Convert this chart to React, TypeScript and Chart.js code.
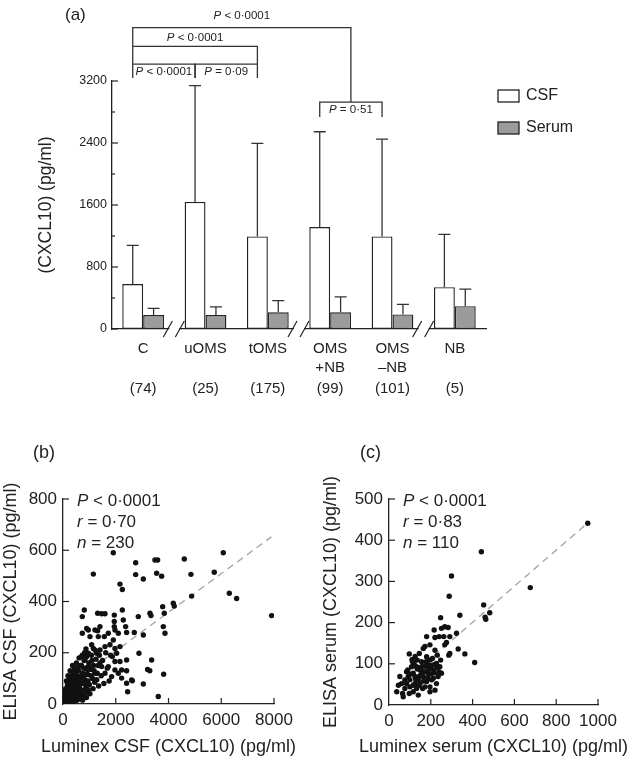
import React, { useEffect, useRef } from 'react';
import { Chart, registerables } from 'chart.js';
Chart.register(...registerables);

const FONT = '"Liberation Sans", Arial, Helvetica, sans-serif';
const INK = '#222';
Chart.defaults.font.family = FONT;
Chart.defaults.color = INK;

// ---------- Panel (a) data ----------
const groupLabels = [['C'], ['uOMS'], ['tOMS'], ['OMS', '+NB'], ['OMS', '–NB'], ['NB']];
const groupCounts = ['(74)', '(25)', '(175)', '(99)', '(101)', '(5)'];
const csfMean = [580, 1640, 1195, 1315, 1195, 540];
const csfSD = [500, 1500, 1200, 1230, 1255, 680];
const serumMean = [180, 180, 215, 215, 188, 295];
const serumSD = [85, 105, 150, 200, 130, 220];
const seriesNames = ['CSF', 'Serum'];
const yTicksMajorA = 800;
const yTicksMinorA = 400;
const breakAfter = [0, 2, 4];
// brackets: x in group units (CSF bar = group - 0.1675), y in pg/ml
const brackets = [
  { x1: -0.1675, x2: 3.3325, y: 3890, d1: 3647, d2: 2928, text: ' < 0·0001', ty: 4045 },
  { x1: -0.1675, x2: 1.8325, y: 3647, d1: 3419, d2: 3419, text: ' < 0·0001', ty: 3762 },
  { x1: -0.1675, x2: 0.8325, y: 3419, d1: 3239, d2: 3239, text: ' < 0·0001', ty: 3316 },
  { x1: 0.8325, x2: 1.8325, y: 3419, d1: 3239, d2: 3239, text: ' = 0·09', ty: 3316 },
  { x1: 2.8325, x2: 3.8325, y: 2928, d1: 2735, d2: 2735, text: ' = 0·51', ty: 2831 },
];

// ---------- Panel (b) data: [Luminex CSF, ELISA CSF] ----------
const csfPoints: [number, number][] = [
  [1907, 590], [1150, 507], [2755, 551], [3487, 562], [3588, 562], [4598, 566], [6077, 590], [5735, 514],
  [4851, 506], [2755, 505], [3045, 488], [3550, 510], [3740, 499], [2160, 468], [2249, 447], [4878, 421],
  [6305, 432], [6583, 412], [7909, 345], [4181, 393], [4219, 382], [3778, 380], [3841, 354], [3297, 354],
  [3335, 345], [2855, 341], [2249, 367], [1945, 347], [808, 367], [732, 341], [1314, 354], [1466, 352],
  [1592, 352], [3803, 302], [3866, 276], [3045, 269], [2881, 198], [3360, 172], [3208, 135], [3290, 130],
  [3816, 116], [3045, 78], [3613, 29], [2451, 48], [2628, 91],
  [1945, 322], [2286, 328], [2375, 302], [1945, 302], [1970, 289], [2097, 276], [1907, 250], [732, 276],
  [897, 295], [960, 289], [1213, 289], [1314, 286], [1402, 302], [1023, 263], [1339, 263], [1566, 263],
  [1718, 276], [1781, 231], [1592, 224], [1086, 231], [1150, 217], [1276, 198], [1402, 211], [960, 198],
  [1970, 217], [2034, 198], [2160, 224], [1870, 185], [1970, 166], [2160, 166], [2412, 172], [2412, 279],
  [2703, 279], [2412, 130], [2223, 133], [2097, 120], [1970, 133], [1718, 146], [1592, 120], [1465, 146],
  [1844, 107], [2223, 101], [2602, 94], [2412, 81], [1213, 120], [960, 146], [834, 172], [707, 185],
  [581, 146], [455, 120],
  [50, 10], [80, 25], [120, 15], [150, 40], [200, 30], [220, 60], [260, 20], [300, 45], [330, 80], [350, 15],
  [380, 55], [400, 35], [420, 95], [450, 70], [480, 20], [500, 50], [520, 110], [550, 85], [580, 40], [600, 130],
  [620, 65], [650, 100], [680, 30], [700, 150], [720, 80], [750, 120], [780, 55], [800, 170], [830, 95], [860, 140],
  [880, 60], [900, 185], [940, 115], [980, 160], [1000, 75], [1040, 135], [1080, 190], [1120, 100], [1160, 150],
  [1200, 85], [1250, 175], [1300, 120], [1350, 70], [1400, 160], [100, 60], [130, 90], [170, 75], [190, 110],
  [240, 95], [270, 130], [290, 70], [320, 110], [360, 150], [390, 125], [410, 60], [440, 140], [470, 100],
  [510, 160], [540, 30], [570, 130], [610, 180], [640, 45], [660, 150], [690, 110], [730, 190], [760, 35],
  [790, 140], [820, 200], [850, 75], [870, 215], [910, 45], [950, 90], [30, 30], [60, 45], [90, 5], [110, 35],
  [140, 20], [160, 55], [180, 10], [210, 85], [230, 45], [250, 65], [280, 5], [310, 25], [340, 100], [370, 35],
  [430, 10], [460, 45], [490, 80], [530, 15], [560, 60], [590, 95], [630, 20], [670, 80], [710, 50], [740, 15],
  [770, 100], [810, 30], [840, 115], [890, 25], [920, 135], [960, 55], [1020, 40], [1060, 110], [1100, 170],
  [1140, 60], [1180, 130], [1220, 210], [1280, 95], [1330, 150], [1380, 190], [1450, 110], [1500, 170],
  [1550, 80], [1620, 200], [1680, 140], [1750, 90], [1800, 190],
];
const csfFit: [number, number][] = [[0, 56], [7900, 652]];
const csfStats = [['P', ' < 0·0001'], ['r', ' = 0·70'], ['n', ' = 230']];

// ---------- Panel (c) data: [Luminex serum, ELISA serum] ----------
const serumPoints: [number, number][] = [
  [951, 441], [442, 372], [299, 313], [288, 264], [676, 285], [453, 243], [460, 213], [463, 208], [482, 224],
  [339, 218], [247, 212], [216, 182], [251, 186], [267, 190], [283, 188], [180, 166], [220, 164], [240, 166],
  [262, 166], [291, 166], [275, 152], [267, 146], [323, 174], [331, 136], [291, 125], [286, 121], [363, 124],
  [410, 103], [145, 125], [164, 137], [172, 142], [196, 146], [220, 133],
  [37, 32], [68, 20], [60, 52], [76, 61], [92, 69], [100, 44], [116, 77], [124, 52], [132, 93], [140, 61],
  [148, 85], [156, 105], [164, 69], [172, 44], [180, 93], [188, 77], [196, 109], [204, 61], [212, 85], [220, 36],
  [227, 101], [235, 69], [243, 93], [251, 77], [108, 93], [84, 81], [52, 69], [45, 48], [76, 40], [97, 28],
  [116, 32], [132, 40], [148, 52], [161, 40], [180, 57], [196, 44], [212, 65], [227, 52], [100, 61], [124, 69],
  [145, 69], [172, 81], [188, 97], [156, 93], [135, 109], [113, 105], [97, 124], [180, 117], [208, 113],
  [231, 121], [247, 109], [116, 48], [84, 52], [65, 28], [140, 24], [196, 32],
  [90, 85], [105, 75], [120, 100], [135, 88], [150, 72], [165, 58], [178, 105], [192, 88], [205, 96], [218, 78],
  [230, 90], [128, 62], [142, 47], [158, 82], [170, 95], [185, 66], [200, 75], [215, 98], [110, 110], [125, 118],
  [240, 80],
];
const serumFit: [number, number][] = [[40, 43], [935, 435]];
const serumStats = [['P', ' < 0·0001'], ['r', ' = 0·83'], ['n', ' = 110']];

// ---------- helpers ----------
function setFont(ctx: CanvasRenderingContext2D, size: number, italic = false) {
  ctx.font = `${italic ? 'italic ' : ''}${size}px ${FONT}`;
}
function drawRich(ctx: CanvasRenderingContext2D, parts: [string, boolean][], x: number, y: number, size: number, align: 'left' | 'center') {
  let total = 0;
  const widths = parts.map(([t, it]) => {
    setFont(ctx, size, it);
    const w = ctx.measureText(t).width;
    total += w;
    return w;
  });
  let cx = align === 'center' ? x - total / 2 : x;
  ctx.textAlign = 'left';
  ctx.textBaseline = 'middle';
  ctx.fillStyle = INK;
  parts.forEach(([t, it], i) => {
    setFont(ctx, size, it);
    ctx.fillText(t, cx, y);
    cx += widths[i];
  });
}

const CAT_PCT = 0.67;

function BarPanel() {
  const ref = useRef<HTMLCanvasElement>(null);
  useEffect(() => {
    const plugin = {
      id: 'panelA',
      afterDatasetsDraw(chart: any) {
        const { ctx, chartArea, scales: { x, y } } = chart;
        ctx.save();
        // error bars
        [csfSD, serumSD].forEach((sd, di) => {
          const meta = chart.getDatasetMeta(di);
          const vals = di === 0 ? csfMean : serumMean;
          meta.data.forEach((el: any, i: number) => {
            const top = y.getPixelForValue(vals[i] + sd[i]);
            ctx.strokeStyle = '#333';
            ctx.lineWidth = 1.3;
            ctx.beginPath();
            ctx.moveTo(el.x, el.y);
            ctx.lineTo(el.x, top);
            ctx.moveTo(el.x - 6, top);
            ctx.lineTo(el.x + 6, top);
            ctx.stroke();
          });
        });
        // y ticks (inward)
        ctx.strokeStyle = INK;
        ctx.lineWidth = 1.2;
        for (let v = 0; v <= 3200; v += yTicksMinorA) {
          const py = y.getPixelForValue(v);
          const len = v % yTicksMajorA === 0 ? 6 : 3;
          ctx.beginPath();
          ctx.moveTo(chartArea.left, py);
          ctx.lineTo(chartArea.left + len, py);
          ctx.stroke();
        }
        // brackets
        ctx.strokeStyle = '#333';
        ctx.lineWidth = 1.3;
        brackets.forEach((b) => {
          const x1 = x.getPixelForValue(b.x1);
          const x2 = x.getPixelForValue(b.x2);
          const yy = y.getPixelForValue(b.y);
          ctx.beginPath();
          ctx.moveTo(x1, y.getPixelForValue(b.d1));
          ctx.lineTo(x1, yy);
          ctx.lineTo(x2, yy);
          ctx.lineTo(x2, y.getPixelForValue(b.d2));
          ctx.stroke();
          drawRich(ctx, [['P', true], [b.text, false]], (x1 + x2) / 2, y.getPixelForValue(b.ty), 11.5, 'center');
        });
        // axis breaks
        breakAfter.forEach((g) => {
          const bx = x.getPixelForValue(g + 0.5);
          const by = chartArea.bottom;
          ctx.fillStyle = '#fff';
          ctx.fillRect(bx - 5, by - 2, 10, 4);
          ctx.strokeStyle = INK;
          ctx.lineWidth = 1.2;
          ctx.beginPath();
          ctx.moveTo(bx - 11, by + 8);
          ctx.lineTo(bx - 2, by - 8);
          ctx.moveTo(bx + 1, by + 8);
          ctx.lineTo(bx + 10, by - 8);
          ctx.stroke();
        });
        // counts
        setFont(ctx, 15);
        ctx.fillStyle = INK;
        ctx.textAlign = 'center';
        ctx.textBaseline = 'middle';
        groupCounts.forEach((c, i) => {
          ctx.fillText(c, x.getPixelForValue(i), chartArea.bottom + 60);
        });
        // legend
        chart.data.datasets.forEach((ds: any, i: number) => {
          const bx = chartArea.right + 12;
          const by = 90 + i * 32;
          ctx.fillStyle = ds.backgroundColor;
          ctx.fillRect(bx, by, 21, 12);
          ctx.strokeStyle = INK;
          ctx.lineWidth = 1.3;
          ctx.strokeRect(bx, by, 21, 12);
          setFont(ctx, 16);
          ctx.fillStyle = INK;
          ctx.textAlign = 'left';
          ctx.textBaseline = 'middle';
          ctx.fillText(ds.label, bx + 28, by + 6);
        });
        // panel label
        setFont(ctx, 17);
        ctx.textAlign = 'left';
        ctx.fillText('(a)', 65, 15);
        ctx.restore();
      },
    };
    const chart = new Chart(ref.current!, {
      type: 'bar',
      data: {
        labels: groupLabels,
        datasets: [
          { label: seriesNames[0], data: csfMean, backgroundColor: '#ffffff', borderColor: INK, borderWidth: 1.4, borderSkipped: false, categoryPercentage: CAT_PCT, barPercentage: 1 },
          { label: seriesNames[1], data: serumMean, backgroundColor: '#9b9b9b', borderColor: INK, borderWidth: 1.4, borderSkipped: false, categoryPercentage: CAT_PCT, barPercentage: 1 },
        ],
      },
      options: {
        responsive: false,
        animation: false,
        events: [],
        layout: { padding: { top: 81, right: 148, left: 0, bottom: 0 } },
        plugins: { legend: { display: false }, tooltip: { enabled: false } },
        scales: {
          x: {
            grid: { display: false, drawTicks: false },
            border: { display: true, color: INK, width: 1.3 },
            ticks: { font: { size: 15, lineHeight: 1.3 }, color: INK, padding: 10, maxRotation: 0, autoSkip: false },
            afterFit: (s: any) => { s.height = 71; },
          },
          y: {
            min: 0,
            max: 3200,
            grid: { display: false, drawTicks: false },
            border: { display: true, color: INK, width: 1.3 },
            ticks: {
              stepSize: yTicksMinorA,
              autoSkip: false,
              font: { size: 12.5 },
              color: INK,
              padding: 5,
              callback: (v: any) => (Number(v) % yTicksMajorA === 0 ? String(v) : ''),
            },
            title: { display: true, text: '(CXCL10) (pg/ml)', font: { size: 17.5 }, color: INK, padding: { top: 36, bottom: 0 } },
            afterFit: (s: any) => { s.width = 112; },
          },
        },
      } as any,
      plugins: [plugin],
    });
    return () => chart.destroy();
  }, []);
  return <canvas ref={ref} width={634} height={400} style={{ position: 'absolute', left: 0, top: 0, display: 'block' }} />;
}

type ScatterProps = {
  left: number;
  points: [number, number][];
  fit: [number, number][];
  stats: string[][];
  xMax: number;
  xStep: number;
  yMax: number;
  yStep: number;
  xTitle: string;
  yTitle: string;
  label: string;
  axisWidth: number;
  rightPad: number;
  bottomH: number;
  yTitlePad: number;
  labelX: number;
};

function ScatterPanel(p: ScatterProps) {
  const ref = useRef<HTMLCanvasElement>(null);
  useEffect(() => {
    const plugin = {
      id: 'scatterDeco',
      afterDatasetsDraw(chart: any) {
        const { ctx, chartArea, scales: { x, y } } = chart;
        ctx.save();
        ctx.strokeStyle = INK;
        ctx.lineWidth = 1.2;
        for (let v = p.yStep; v <= p.yMax; v += p.yStep) {
          const py = y.getPixelForValue(v);
          ctx.beginPath();
          ctx.moveTo(chartArea.left, py);
          ctx.lineTo(chartArea.left + 6, py);
          ctx.stroke();
        }
        for (let v = p.xStep; v <= p.xMax; v += p.xStep) {
          const px = x.getPixelForValue(v);
          ctx.beginPath();
          ctx.moveTo(px, chartArea.bottom);
          ctx.lineTo(px, chartArea.bottom - 6);
          ctx.stroke();
        }
        p.stats.forEach((s, i) => {
          drawRich(ctx, [[s[0], true], [s[1], false]], chartArea.left + 14, chartArea.top + 2 + i * 21, 17, 'left');
        });
        setFont(ctx, 18);
        ctx.fillStyle = INK;
        ctx.textAlign = 'left';
        ctx.textBaseline = 'middle';
        ctx.fillText(p.label, p.labelX, 33);
        // x-axis title (drawn unconstrained so it can extend past the plot)
        ctx.textAlign = 'center';
        ctx.fillText(p.xTitle, (chartArea.left + chartArea.right) / 2, chart.height - 11);
        ctx.restore();
      },
    };
    const chart = new Chart(ref.current!, {
      type: 'scatter',
      data: {
        datasets: [
          { data: p.points.map(([a, b]) => ({ x: a, y: b })), pointRadius: 2.7, pointBackgroundColor: '#111', pointBorderWidth: 0, order: 1 },
          { data: p.fit.map(([a, b]) => ({ x: a, y: b })), showLine: true, borderColor: '#a8a8a8', borderDash: [7, 5], borderWidth: 1.4, pointRadius: 0, order: 2 },
        ],
      },
      options: {
        responsive: false,
        animation: false,
        events: [],
        layout: { padding: { top: 79, right: p.rightPad, left: 0, bottom: 0 } },
        plugins: { legend: { display: false }, tooltip: { enabled: false } },
        scales: {
          x: {
            type: 'linear',
            min: 0,
            max: p.xMax,
            grid: { display: false, drawTicks: false },
            border: { display: true, color: INK, width: 1.3 },
            ticks: { stepSize: p.xStep, font: { size: 17 }, color: INK, padding: 6, maxRotation: 0, autoSkip: false, callback: (v: any) => String(v) },
            afterFit: (s: any) => { s.height = p.bottomH; },
          },
          y: {
            type: 'linear',
            min: 0,
            max: p.yMax,
            grid: { display: false, drawTicks: false },
            border: { display: true, color: INK, width: 1.3 },
            ticks: { stepSize: p.yStep, font: { size: 17 }, color: INK, padding: 6, autoSkip: false, callback: (v: any) => String(v) },
            title: { display: true, text: p.yTitle, font: { size: 18 }, color: INK, padding: { top: p.yTitlePad, bottom: 0 } },
            afterFit: (s: any) => { s.width = p.axisWidth; },
          },
        },
      } as any,
      plugins: [plugin],
    });
    return () => chart.destroy();
  }, []);
  return <canvas ref={ref} width={317} height={338} style={{ position: 'absolute', left: p.left, top: 420, display: 'block' }} />;
}

export default function App() {
  return (
    <div style={{ position: 'absolute', left: 0, top: 0, width: 634, height: 758, background: '#fff', overflow: 'hidden' }}>
      <BarPanel />
      <ScatterPanel
        left={0}
        points={csfPoints}
        fit={csfFit}
        stats={csfStats}
        xMax={8000}
        xStep={2000}
        yMax={800}
        yStep={200}
        xTitle="Luminex CSF (CXCL10) (pg/ml)"
        yTitle="ELISA CSF (CXCL10) (pg/ml)"
        label="(b)"
        axisWidth={63}
        rightPad={43}
        bottomH={54}
        yTitlePad={0}
        labelX={33}
      />
      <ScatterPanel
        left={317}
        points={serumPoints}
        fit={serumFit}
        stats={serumStats}
        xMax={1000}
        xStep={200}
        yMax={500}
        yStep={100}
        xTitle="Luminex serum (CXCL10) (pg/ml)"
        yTitle="ELISA serum (CXCL10) (pg/ml)"
        label="(c)"
        axisWidth={72}
        rightPad={36}
        bottomH={53}
        yTitlePad={3}
        labelX={43}
      />
    </div>
  );
}
